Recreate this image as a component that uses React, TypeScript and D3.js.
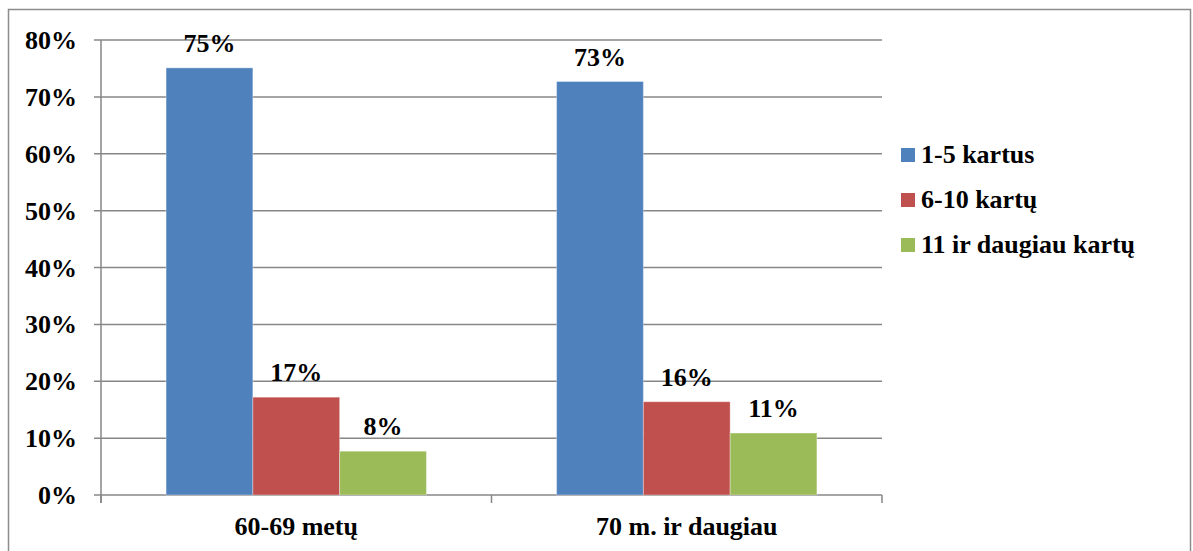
import * as d3 from "d3";

const categories = ["60-69 metų", "70 m. ir daugiau"];
const seriesNames = ["1-5 kartus", "6-10 kartų", "11 ir daugiau kartų"];
const seriesColors = ["#4F81BD", "#C0504D", "#9BBB59"];
const values = [
  [0.751, 0.727],
  [0.172, 0.164],
  [0.077, 0.109],
];
const yTicks = [0, 0.1, 0.2, 0.3, 0.4, 0.5, 0.6, 0.7, 0.8];

const FONT = "Liberation Serif";
const FS = 26;

export default function App() {
  const width = 1193;
  const height = 551;
  const plot = { left: 101, right: 882, top: 40, bottom: 495 };
  const gridColor = "#878787";

  const x0 = d3.scaleBand().domain(categories).range([plot.left, plot.right]).padding(0);
  const x1 = d3
    .scaleBand()
    .domain(seriesNames)
    .range([0, x0.bandwidth()])
    .paddingInner(0)
    .paddingOuter(0.75);
  const y = d3.scaleLinear().domain([0, 0.8]).range([plot.bottom, plot.top]);
  const pct = d3.format(".0%");

  return (
    <svg
      width={width}
      height={height}
      viewBox={`0 0 ${width} ${height}`}
      style={{ position: "absolute", left: 0, top: 0, background: "#fff" }}
    >
      <rect x={8.5} y={9.5} width={1182} height={560} fill="#fff" stroke="#8c8c8c" strokeWidth={1.5} />
      {yTicks.map((tick) => (
        <g key={tick}>
          <line x1={plot.left - 7} x2={plot.right} y1={y(tick)} y2={y(tick)} stroke={gridColor} strokeWidth={1.5} />
          <text x={77} y={y(tick) + 9} textAnchor="end" fontFamily={FONT} fontWeight="bold" fontSize={FS} fill="#000">
            {pct(tick)}
          </text>
        </g>
      ))}
      <line x1={plot.left} x2={plot.left} y1={plot.top} y2={plot.bottom + 8} stroke={gridColor} strokeWidth={1.5} />
      {[...categories.map((c) => x0(c) ?? 0), plot.right].map((xv, i) => (
        <line key={i} x1={xv} x2={xv} y1={plot.bottom} y2={plot.bottom + 8} stroke={gridColor} strokeWidth={1.5} />
      ))}
      {seriesNames.map((name, si) =>
        categories.map((cat, ci) => {
          const v = values[si][ci];
          const bx = (x0(cat) ?? 0) + (x1(name) ?? 0);
          return (
            <g key={`${si}-${ci}`}>
              <rect
                x={bx}
                y={y(v)}
                width={x1.bandwidth()}
                height={plot.bottom - y(v)}
                fill={seriesColors[si]}
                stroke="rgba(255,255,255,0.35)"
                strokeWidth={1}
              />
              <text
                x={bx + x1.bandwidth() / 2}
                y={y(v) - 16}
                textAnchor="middle"
                fontFamily={FONT}
                fontWeight="bold"
                fontSize={FS}
                fill="#000"
              >
                {pct(v)}
              </text>
            </g>
          );
        }),
      )}
      {categories.map((cat) => (
        <text
          key={cat}
          x={(x0(cat) ?? 0) + x0.bandwidth() / 2}
          y={535}
          textAnchor="middle"
          fontFamily={FONT}
          fontWeight="bold"
          fontSize={FS}
          fill="#000"
        >
          {cat}
        </text>
      ))}
      {seriesNames.map((name, i) => (
        <g key={name} transform={`translate(901, ${155 + i * 45})`}>
          <rect x={0} y={-7} width={14} height={14} fill={seriesColors[i]} />
          <text x={20} y={8} fontFamily={FONT} fontWeight="bold" fontSize={FS} fill="#000">
            {name}
          </text>
        </g>
      ))}
    </svg>
  );
}
